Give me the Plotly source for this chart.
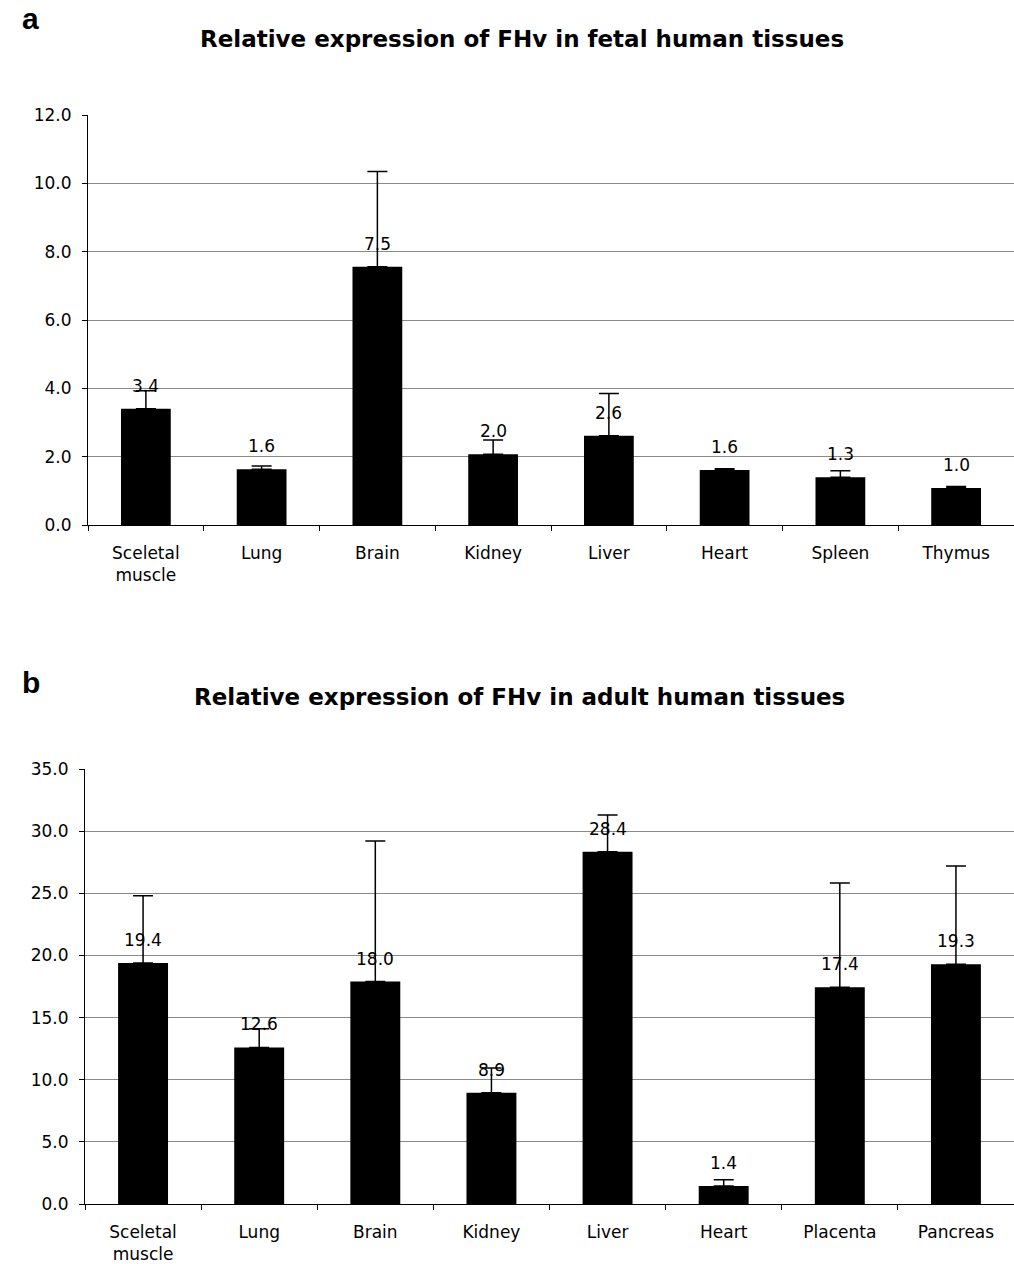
import plotly.graph_objects as go

# ---------- data ----------
fetal_categories = ["Sceletal<br>muscle", "Lung", "Brain", "Kidney", "Liver", "Heart", "Spleen", "Thymus"]
fetal_values = [3.40, 1.63, 7.56, 2.07, 2.61, 1.61, 1.40, 1.08]
fetal_errors = [0.53, 0.10, 2.79, 0.42, 1.24, 0.04, 0.19, 0.05]
fetal_labels = ["3.4", "1.6", "7.5", "2.0", "2.6", "1.6", "1.3", "1.0"]

adult_categories = ["Sceletal<br>muscle", "Lung", "Brain", "Kidney", "Liver", "Heart", "Placenta", "Pancreas"]
adult_values = [19.4, 12.6, 17.9, 8.95, 28.35, 1.45, 17.43, 19.3]
adult_errors = [5.4, 1.5, 11.3, 2.0, 2.95, 0.5, 8.4, 7.9]
adult_labels = ["19.4", "12.6", "18.0", "8.9", "28.4", "1.4", "17.4", "19.3"]

title_a = "Relative expression of FHv in fetal human tissues"
title_b = "Relative expression of FHv in adult human tissues"

# figure fills the whole viewport (body margin removed in post_script)
W, H = 1014, 1264
FONT = "DejaVu Sans"


def px_x(p):
    return p / W


def px_y(p):
    return 1 - p / H


fig = go.Figure()


def add_bars(cats, vals, errs, xa, ya):
    fig.add_trace(go.Bar(
        x=cats, y=vals, xaxis=xa, yaxis=ya,
        marker=dict(color="black", line=dict(width=0)),
        error_y=dict(type="data", symmetric=False, array=errs,
                     arrayminus=[0] * len(errs), color="black",
                     thickness=1.5, width=10),
        showlegend=False, hoverinfo="x+y",
    ))


add_bars(fetal_categories, fetal_values, fetal_errors, "x", "y")
add_bars(adult_categories, adult_values, adult_errors, "x2", "y2")

annotations = []
for cats, vals, labs, xr, yr in [
    (fetal_categories, fetal_values, fetal_labels, "x", "y"),
    (adult_categories, adult_values, adult_labels, "x2", "y2"),
]:
    for c, v, t in zip(cats, vals, labs):
        annotations.append(dict(x=c, y=v, xref=xr, yref=yr, text=t, showarrow=False,
                                yshift=23, font=dict(family=FONT, size=17, color="black")))

# titles and panel letters
annotations += [
    dict(x=px_x(522), y=px_y(39), xref="paper", yref="paper", text="<b>" + title_a + "</b>",
         showarrow=False, font=dict(family=FONT, size=23, color="black"), yanchor="middle"),
    dict(x=px_x(519), y=px_y(697), xref="paper", yref="paper", text="<b>" + title_b + "</b>",
         showarrow=False, font=dict(family=FONT, size=23, color="black"), yanchor="middle"),
    dict(x=px_x(20), y=1.0, xref="paper", yref="paper", text="<b>a</b>",
         showarrow=False, font=dict(family="Liberation Sans", size=30, color="black"), yanchor="top"),
    dict(x=px_x(20), y=px_y(664), xref="paper", yref="paper", text="<b>b</b>",
         showarrow=False, font=dict(family="Liberation Sans", size=30, color="black"), yanchor="top"),
]

xaxis_common = dict(
    type="category", showline=True, linecolor="black", linewidth=1.2,
    ticks="outside", tickson="boundaries", ticklen=5, tickcolor="black",
    showgrid=False, tickfont=dict(family=FONT, size=17, color="black"),
    ticklabelstandoff=12, fixedrange=True, automargin=False,
)
yaxis_common = dict(
    showline=True, linecolor="black", linewidth=1.2, ticks="outside", ticklen=5,
    tickcolor="black", showgrid=True, gridcolor="#8a8a8a", gridwidth=1,
    zeroline=False, tickformat=".1f", tickfont=dict(family=FONT, size=17, color="black"),
    ticklabelstandoff=7, fixedrange=True, automargin=False,
)

fig.update_layout(
    template="none",
    width=W, height=H, margin=dict(l=0, r=0, t=0, b=0, pad=0),
    paper_bgcolor="white", plot_bgcolor="white",
    bargap=0.57,
    xaxis=dict(domain=[px_x(88), 1.0], anchor="y", **xaxis_common),
    yaxis=dict(domain=[px_y(525), px_y(115)], anchor="x", range=[0, 12], dtick=2, **yaxis_common),
    xaxis2=dict(domain=[px_x(85), 1.0], anchor="y2", **xaxis_common),
    yaxis2=dict(domain=[px_y(1204), px_y(769)], anchor="x2", range=[0, 35], dtick=5, **yaxis_common),
    annotations=annotations,
)

fig.write_html(
    "out.html",
    config={"displayModeBar": False},
    post_script="document.body.style.margin='0';document.body.style.overflow='hidden';",
)
